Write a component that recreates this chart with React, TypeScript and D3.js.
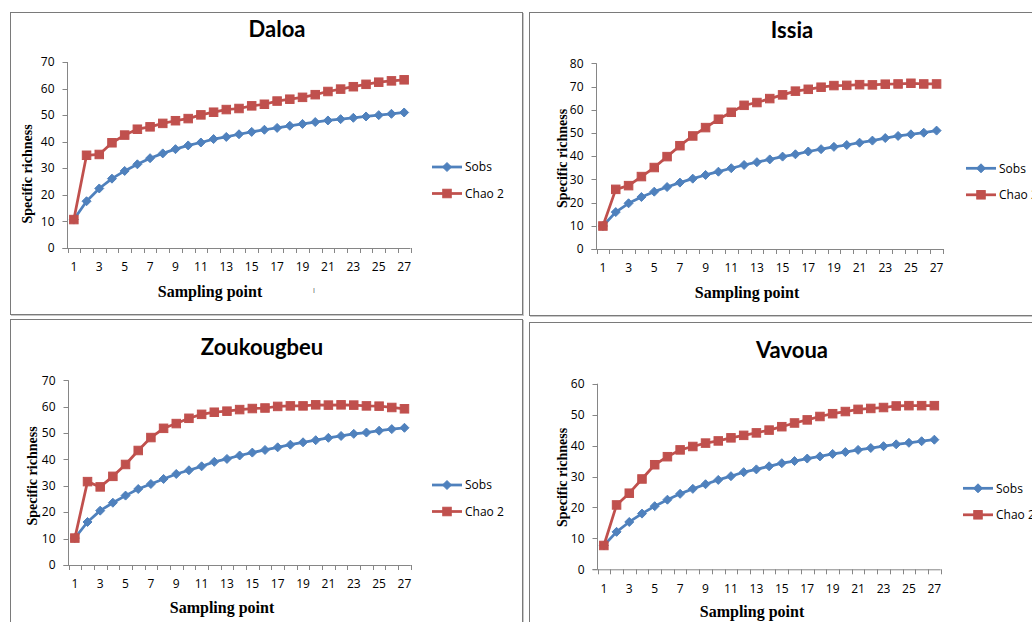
import React from "react";
import * as d3 from "d3";

// ---------- DATA ----------
const samplingPoints = [1, 2, 3, 4, 5, 6, 7, 8, 9, 10, 11, 12, 13, 14, 15, 16, 17, 18, 19, 20, 21, 22, 23, 24, 25, 26, 27];
const seriesNames = ["Sobs", "Chao 2"];
const sites = ["Daloa", "Issia", "Zoukougbeu", "Vavoua"];

const daloaSobs = [10.7, 17.6, 22.4, 26.1, 29.0, 31.5, 33.8, 35.6, 37.2, 38.6, 39.7, 41.0, 41.8, 42.8, 43.7, 44.5, 45.2, 46.0, 46.7, 47.4, 48.0, 48.5, 49.0, 49.5, 50.0, 50.5, 51.0];
const daloaChao = [10.7, 34.9, 35.2, 39.6, 42.5, 44.7, 45.6, 46.9, 47.9, 48.7, 50.1, 51.1, 52.1, 52.5, 53.5, 54.1, 55.3, 56.0, 56.7, 57.7, 58.9, 59.8, 60.7, 61.6, 62.4, 62.9, 63.3];
const issiaSobs = [9.9, 15.9, 19.7, 22.4, 24.7, 26.7, 28.6, 30.3, 31.9, 33.3, 34.8, 36.2, 37.4, 38.6, 39.8, 40.8, 42.0, 43.0, 44.0, 44.8, 45.8, 46.7, 47.8, 48.7, 49.4, 50.1, 51.0];
const issiaChao = [9.9, 25.7, 27.3, 31.2, 35.1, 39.8, 44.5, 48.7, 52.3, 55.9, 58.9, 61.9, 63.1, 64.8, 66.4, 68.0, 68.8, 69.7, 70.4, 70.5, 70.8, 70.7, 71.0, 71.1, 71.4, 71.1, 71.1];
const zoukSobs = [10.2, 16.3, 20.6, 23.6, 26.3, 28.8, 30.7, 32.6, 34.5, 35.9, 37.4, 39.1, 40.2, 41.5, 42.6, 43.6, 44.6, 45.6, 46.5, 47.3, 48.2, 48.9, 49.7, 50.2, 50.9, 51.5, 52.0];
const zoukChao = [10.2, 31.6, 29.6, 33.6, 38.1, 43.4, 48.3, 51.8, 53.6, 55.6, 57.1, 57.9, 58.3, 58.9, 59.3, 59.5, 60.1, 60.3, 60.3, 60.7, 60.6, 60.7, 60.6, 60.3, 60.2, 59.7, 59.2];
const vavSobs = [7.7, 12.1, 15.3, 18.0, 20.4, 22.5, 24.4, 26.0, 27.5, 28.9, 30.1, 31.4, 32.3, 33.3, 34.3, 35.0, 35.8, 36.5, 37.3, 37.9, 38.6, 39.2, 39.8, 40.4, 40.9, 41.4, 41.9];
const vavChao = [7.7, 20.8, 24.6, 29.2, 33.8, 36.4, 38.6, 39.7, 40.8, 41.5, 42.5, 43.3, 44.1, 45.0, 46.1, 47.3, 48.3, 49.4, 50.3, 51.0, 51.7, 52.0, 52.3, 52.8, 52.9, 52.9, 52.9];

const yMaxes = [70, 80, 70, 60];
const xAxisTitle = "Sampling point";
const yAxisTitle = "Specific richness";

// ---------- LAYOUT ----------
const BLUE = "#4F81BD";
const RED = "#C0504D";
const AXIS = "#868686";

type Layout = {
  frame: { x: number; y: number; w: number; h: number };
  plot: { left: number; right: number; bottom: number; top: number };
  title: [number, number];
  xTitle: [number, number];
  yTitle: [number, number];
  legend: [number, number];
};

const layouts: Layout[] = [
  { frame: { x: 10.5, y: 12.5, w: 512, h: 302 }, plot: { left: 67.5, right: 410.5, bottom: 248, top: 62 }, title: [277, 37], xTitle: [210, 297], yTitle: [27, 174], legend: [432, 167] },
  { frame: { x: 529.5, y: 12.5, w: 520, h: 303 }, plot: { left: 596.5, right: 943, bottom: 249, top: 63.3 }, title: [792, 38], xTitle: [747, 298], yTitle: [562, 158.5], legend: [966, 168.3] },
  { frame: { x: 10.5, y: 319.5, w: 512, h: 320 }, plot: { left: 68.5, right: 410.8, bottom: 565, top: 380.3 }, title: [262, 355], xTitle: [222, 612.5], yTitle: [32, 476], legend: [432, 485] },
  { frame: { x: 529.5, y: 322.5, w: 520, h: 320 }, plot: { left: 597.5, right: 940.7, bottom: 569.3, top: 383.7 }, title: [792, 358], xTitle: [752, 616.5], yTitle: [562, 477.5], legend: [963, 488.3] },
];

const siteSeries = [
  [daloaSobs, daloaChao],
  [issiaSobs, issiaChao],
  [zoukSobs, zoukChao],
  [vavSobs, vavChao],
];

const TICK_FONT = "'Open Sans', 'DejaVu Sans', sans-serif";
const TITLE_FONT = "Lato, 'Open Sans', sans-serif";
const SERIF = "'Liberation Serif', 'Times New Roman', serif";

function Diamond({ cx, cy, r, color }: { cx: number; cy: number; r: number; color: string }) {
  return <path d={`M${cx},${cy - r}L${cx + r},${cy}L${cx},${cy + r}L${cx - r},${cy}Z`} fill={color} stroke={color} strokeWidth={1} />;
}
function Square({ cx, cy, s, color }: { cx: number; cy: number; s: number; color: string }) {
  return <rect x={cx - s / 2} y={cy - s / 2} width={s} height={s} fill={color} stroke={color} strokeWidth={1} />;
}

function Panel({ idx }: { idx: number }) {
  const L = layouts[idx];
  const [sobs, chao] = siteSeries[idx];
  const yMax = yMaxes[idx];
  const x = d3.scaleBand<number>().domain(samplingPoints).range([L.plot.left, L.plot.right]).paddingInner(0).paddingOuter(0);
  const y = d3.scaleLinear().domain([0, yMax]).range([L.plot.bottom, L.plot.top]);
  const cx = (i: number) => (x(samplingPoints[i]) as number) + x.bandwidth() / 2;
  const line = d3.line<number>().x((_, i) => cx(i)).y((d) => y(d));
  const yTicks = d3.range(0, yMax + 1, 10);
  const boundaries = samplingPoints.map((p) => x(p) as number).concat([L.plot.right]);
  const f = L.frame;
  return (
    <g>
      {/* frame with shadow */}
      <rect x={f.x + 1} y={f.y + 1} width={f.w} height={f.h} fill="none" stroke="#c8c8c8" strokeWidth={1} />
      <rect x={f.x} y={f.y} width={f.w} height={f.h} fill="#fff" stroke="#7a7a7a" strokeWidth={1} />
      {/* title */}
      <text x={L.title[0]} y={L.title[1]} textAnchor="middle" fontFamily={TITLE_FONT} fontWeight="bold" fontSize={22} fill="#000">
        {sites[idx]}
      </text>
      {/* y axis */}
      <line x1={L.plot.left} x2={L.plot.left} y1={L.plot.top} y2={L.plot.bottom} stroke={AXIS} strokeWidth={1} />
      {yTicks.map((t) => (
        <g key={t}>
          <line x1={L.plot.left - 5} x2={L.plot.left} y1={Math.round(y(t)) + 0.5} y2={Math.round(y(t)) + 0.5} stroke={AXIS} />
          <text x={L.plot.left - 13} y={y(t)} dy="0.35em" textAnchor="end" fontFamily={TICK_FONT} fontSize={12} fill="#000">
            {t}
          </text>
        </g>
      ))}
      {/* x axis */}
      <line x1={L.plot.left - 5} x2={L.plot.right} y1={L.plot.bottom + 0.5} y2={L.plot.bottom + 0.5} stroke={AXIS} strokeWidth={1} />
      {boundaries.map((b, i) => (
        <line key={i} x1={Math.round(b) + 0.5} x2={Math.round(b) + 0.5} y1={L.plot.bottom} y2={L.plot.bottom + 5} stroke={AXIS} />
      ))}
      {samplingPoints.map((p, i) =>
        p % 2 === 1 ? (
          <text key={p} x={cx(i)} y={L.plot.bottom + 19} dy="0.35em" textAnchor="middle" fontFamily={TICK_FONT} fontSize={12} fill="#000">
            {p}
          </text>
        ) : null
      )}
      {/* axis titles */}
      <text x={L.xTitle[0]} y={L.xTitle[1]} textAnchor="middle" fontFamily={SERIF} fontWeight="bold" fontSize={16} fill="#000">
        {xAxisTitle}
      </text>
      <text
        transform={`translate(${L.yTitle[0]},${L.yTitle[1]}) rotate(-90)`}
        textAnchor="middle"
        dy="0.35em"
        fontFamily={SERIF}
        fontWeight="bold"
        fontSize={14}
        fill="#000"
      >
        {yAxisTitle}
      </text>
      {/* series */}
      <path d={line(sobs) || ""} fill="none" stroke={BLUE} strokeWidth={2.75} strokeLinejoin="round" />
      {sobs.map((v, i) => (
        <Diamond key={i} cx={cx(i)} cy={y(v)} r={4.5} color={BLUE} />
      ))}
      <path d={line(chao) || ""} fill="none" stroke={RED} strokeWidth={2.75} strokeLinejoin="round" />
      {chao.map((v, i) => (
        <Square key={i} cx={cx(i)} cy={y(v)} s={8.5} color={RED} />
      ))}
      {/* legend */}
      {seriesNames.map((name, k) => {
        const ly = L.legend[1] + k * 26.5;
        const lx = L.legend[0];
        const color = k === 0 ? BLUE : RED;
        return (
          <g key={name}>
            <line x1={lx} x2={lx + 30} y1={ly} y2={ly} stroke={color} strokeWidth={2.75} />
            {k === 0 ? <Diamond cx={lx + 15} cy={ly} r={4.5} color={color} /> : <Square cx={lx + 15} cy={ly} s={8.5} color={color} />}
            <text x={lx + 33} y={ly} dy="0.35em" fontFamily={TICK_FONT} fontSize={12} fill="#000">
              {name}
            </text>
          </g>
        );
      })}
    </g>
  );
}

export default function App() {
  return (
    <svg width={1032} height={622} style={{ position: "absolute", left: 0, top: 0, background: "#fff" }}>
      <rect x={0} y={0} width={1032} height={622} fill="#fff" />
      {[0, 1, 2, 3].map((i) => (
        <Panel key={i} idx={i} />
      ))}
      <text x={313} y={293} fontFamily={SERIF} fontSize={7} fill="#555">ⅰ</text>
    </svg>
  );
}
